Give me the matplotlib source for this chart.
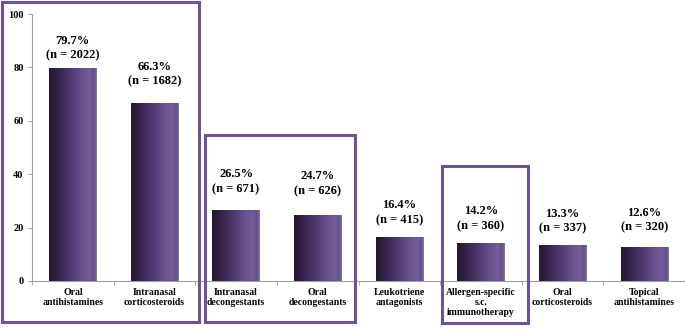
import numpy as np
import matplotlib
matplotlib.use('Agg')
import matplotlib.pyplot as plt
from matplotlib.colors import LinearSegmentedColormap
from matplotlib.patches import Rectangle

categories = ['Oral\nantihistamines', 'Intranasal\ncorticosteroids',
              'Intranasal\ndecongestants', 'Oral\ndecongestants',
              'Leukotriene\nantagonists', 'Allergen-specific\ns.c.\nimmunotherapy',
              'Oral\ncorticosteroids', 'Topical\nantihistamines']
percent = [79.7, 66.3, 26.5, 24.7, 16.4, 14.2, 13.3, 12.6]
counts = [2022, 1682, 671, 626, 415, 360, 337, 320]
yticks = [0, 20, 40, 60, 80, 100]

# gap between bar top and its label, in points (labels were placed by hand)
label_pad = [5, 12, 11, 13, 8, 8, 8, 10]

SERIF = ['Liberation Serif', 'DejaVu Serif']
BOX = '#6d5296'

fig = plt.figure(figsize=(6.85, 3.31), dpi=100)
ax = fig.add_axes([32 / 685, 50 / 331, 653 / 685, 267 / 331])

x = np.arange(len(percent))
w = 0.58
bars = ax.bar(x, percent, width=w, color='#4b3568', zorder=2)

# cylinder-ish horizontal gradient on each bar
cmap = LinearSegmentedColormap.from_list(
    'barg', [(0.0, '#25162f'), (0.3, '#3f2b5b'), (0.65, '#654d8a'),
             (0.85, '#735c98'), (0.95, '#654d8a'), (1.0, '#8a78a8')])
grad = np.linspace(0, 1, 256).reshape(1, -1)
for b in bars:
    x0, h = b.get_x(), b.get_height()
    ax.imshow(grad, cmap=cmap, aspect='auto', extent=(x0, x0 + w, 0, h),
              zorder=3, interpolation='bicubic')

for i, (p, n) in enumerate(zip(percent, counts)):
    ax.annotate(f'{p}%\n(n = {n})', (x[i], p), xytext=(0, label_pad[i]),
                textcoords='offset points', ha='center', va='bottom',
                fontsize=9, fontweight='bold', family=SERIF, linespacing=1.3)

ax.set_xlim(-0.5, len(percent) - 0.5)
ax.set_ylim(0, 100)
ax.set_yticks(yticks)
ax.set_yticklabels([str(t) for t in yticks], fontsize=7.5, fontweight='bold',
                   family=SERIF)
ax.set_xticks(x)
ax.set_xticklabels(categories, fontsize=7, fontweight='bold', family=SERIF,
                   linespacing=1.15)
ax.set_xticks(np.arange(len(percent) + 1) - 0.5, minor=True)
ax.tick_params(axis='x', which='major', length=0, pad=5)
ax.tick_params(axis='x', which='minor', length=3, color='#a0a0a0', direction='out')
ax.tick_params(axis='y', length=3, color='#a0a0a0', pad=3)
for s in ['top', 'right']:
    ax.spines[s].set_visible(False)
for s in ['left', 'bottom']:
    ax.spines[s].set_color('#a0a0a0')
    ax.spines[s].set_linewidth(0.8)

# highlight boxes around groups (figure pixel coords)
for (px0, py0, px1, py1) in [(2, 2, 199, 322), (205, 135, 355, 322), (442, 166, 528, 323)]:
    fig.patches.append(Rectangle((px0 / 685, 1 - py1 / 331),
                                 (px1 - px0) / 685, (py1 - py0) / 331,
                                 transform=fig.transFigure, fill=False,
                                 edgecolor=BOX, linewidth=2.2, zorder=5))

fig.savefig('out.png', dpi=100)
